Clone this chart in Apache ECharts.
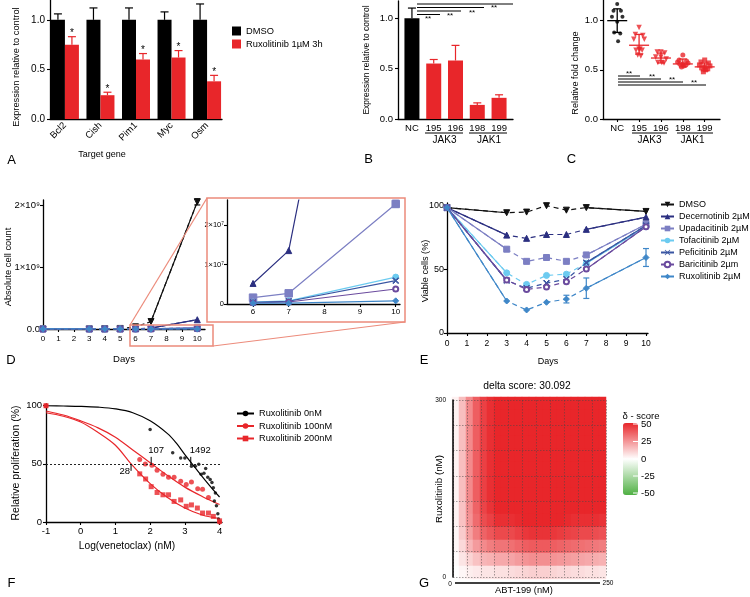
<!DOCTYPE html>
<html>
<head>
<meta charset="utf-8">
<script src="https://cdn.jsdelivr.net/npm/echarts@6/dist/echarts.min.js"></script>
<style>
html,body{margin:0;padding:0;background:#fff;}
#chart{width:750px;height:597px;}
</style>
</head>
<body>
<div id="chart"></div>
<script>
// ================= DATA =================
// Panel A
const genesA = ['Bcl2','Cish','Pim1','Myc','Osm'];
const legendA = ['DMSO','Ruxolitinib 1µM 3h'];
const exprDmsoA = [1.00,1.00,1.00,1.00,1.00];
const errDmsoA  = [1.06,1.12,1.12,1.08,1.16];
const exprRuxA  = [0.75,0.24,0.60,0.62,0.38];
const errRuxA   = [0.83,0.27,0.66,0.69,0.44];
const yTicksAB  = [0,0.5,1.0];

// Panel B
const guidesB = ['NC','195','196','198','199'];
const exprB   = [1.00,0.55,0.58,0.14,0.21];
const errB    = [1.10,0.59,0.73,0.16,0.24];

// Panel C
const guidesC = ['NC','195','196','198','199'];
const foldNC  = [1.17,1.10,1.10,1.04,1.04,0.99,0.88,0.87,0.79];
const fold195 = [0.93,0.86,0.85,0.81,0.81,0.71,0.70,0.70,0.71,0.65,0.64];
const fold196 = [0.68,0.68,0.67,0.63,0.61,0.63,0.575,0.57,0.575];
const fold198 = [0.65,0.60,0.59,0.58,0.57,0.56,0.56,0.55,0.54,0.53];
const fold199 = [0.60,0.58,0.57,0.55,0.54,0.53,0.52,0.51,0.50,0.48];
const meanC   = [1.00,0.75,0.62,0.56,0.53];
const sdLowC  = [0.88,0.66,0.57,0.53,0.49];
const sdHighC = [1.12,0.86,0.67,0.61,0.57];

// Panel D (absolute cell counts)
const daysD      = [0,3,4,5,6,7,10];
const cntDMSO    = [1.0e6,2.0e6,4.0e6,9.0e6,3.5e7,1.2e8,2.05e9];
const cntDecern  = [1.0e6,1.2e6,1.6e6,2.5e6,5.2e6,1.35e7,1.5e8];
const cntUpada   = [1.0e6,0.9e6,0.9e6,1.0e6,1.6e6,2.7e6,2.53e7];
const cntTofa    = [1.0e6,0.5e6,0.5e6,0.5e6,0.5e6,0.8e6,6.8e6];
const cntPefi    = [1.0e6,0.4e6,0.4e6,0.4e6,0.4e6,0.7e6,5.9e6];
const cntBari    = [1.0e6,0.4e6,0.3e6,0.3e6,0.3e6,0.5e6,3.8e6];
const cntRuxo    = [1.0e6,0.3e6,0.2e6,0.2e6,0.2e6,0.2e6,0.8e6];
const dmsoDay10Range  = [2.0e9,2.1e9];
const upadaDay10Range = [2.45e7,2.62e7];

// Panel E (viable cells %)
const daysE     = [0,3,4,5,6,7,10];
const viaDMSO   = [98,94,94.5,99.5,96,98,95];
const viaDecern = [98,76.5,74,77,77,81,90.5];
const viaUpada  = [98,65.5,56,59,56,61,85];
const viaTofa   = [98,47,38,45,46,54.5,83];
const viaPefi   = [98,41,35,39,42,55,84];
const viaBari   = [98,41.4,34,36,40,50,83];
const viaRuxo   = [98,25,18,24,26.5,35,59];
const ruxoErrDays = [6,7,10];
const ruxoErrLow  = [23.5,27,52];
const ruxoErrHigh = [29.5,43,66];
const namesE = ['DMSO ','Decernotinib 2µM','Upadacitinib 2µM','Tofacitinib 2µM','Peficitinib 2µM','Baricitinib 2µm','Ruxolitinib 2µM'];

// Panel F
const namesF = ['Ruxolitinib 0nM','Ruxolitinib 100nM','Ruxolitinib 200nM'];
const fitF0   = [[-1,100],[-0.5,99.8],[0,99.5],[0.5,98.8],[1,97.3],[1.5,94],[2,87],[2.5,76],[2.75,68],[3,58],[3.25,48.5],[3.5,39],[3.75,30],[4,21.5]];
const fitF100 = [[-1,95.5],[-0.5,92],[0,87],[0.5,81],[1,73],[1.5,62],[2,51],[2.5,40],[3,30],[3.5,22],[4,15]];
const fitF200 = [[-1,94],[-0.5,91],[0,86],[0.5,77],[1,66],[1.45,50],[2,33],[2.5,21],[3,12],[3.5,6],[4,3]];
const ptsF0   = [[-1,100],[2.0,79.6],[2.65,59.5],[2.88,55],[3.0,55],[3.19,48],[3.3,48],[3.4,49.6],[3.47,41],[3.55,42],[3.6,46],[3.66,38.5],[3.73,36.5],[3.78,34],[3.82,29.5],[3.88,25],[3.85,18],[3.91,14],[3.95,7],[3.97,2.5],[4,0]];
const ptsF100 = [[-1,100],[1.7,53.8],[1.86,49.8],[2.05,48.8],[2.2,44.6],[2.37,41],[2.53,38.4],[2.69,38.4],[2.88,35],[3.04,32.2],[3.19,34.5],[3.37,28.7],[3.51,28.2],[3.68,21],[4,0]];
const ptsF200 = [[-1,100],[1.7,41.4],[1.87,37],[2.03,30.4],[2.2,25.4],[2.37,23.4],[2.53,23.4],[2.69,17.7],[2.88,19],[3.04,13.5],[3.19,14.7],[3.36,12],[3.51,7.7],[3.68,7.7],[3.82,4.8],[4,1]];
const ic50Labels = ['107','1492','28'];
const ic50LogX   = [2.03,3.17,1.45];

// Panel G (delta synergy surface, rows top -> bottom)
const heatRows = [
 [3,15,27,37,44,48,52,52,52,52,52,52,52,52,52,52,52,52,52,52,52,52],
 [3,15,27,37,44,48,52,52,52,52,52,52,52,52,52,52,52,52,52,52,52,52],
 [3,15,27,37,44,48,52,52,52,52,52,52,52,52,52,52,52,52,52,52,52,52],
 [3,15,27,37,44,48,52,52,52,52,52,52,52,52,52,52,52,52,52,52,52,52],
 [3,15,27,37,44,48,52,52,52,52,52,52,52,52,52,52,52,52,52,52,52,52],
 [3,15,27,37,44,48,52,52,52,52,52,52,52,52,52,52,52,52,52,52,52,52],
 [3,15,27,37,44,48,52,52,52,52,52,52,52,52,52,52,52,52,52,52,52,52],
 [3,15,27,37,44,48,52,52,52,52,52,52,52,52,52,52,52,52,52,52,52,52],
 [3,14,26,36,43,47,51,51,51,52,52,52,52,52,52,52,52,51,51,51,51,50],
 [3,14,25,34,41,44,48,48,48,49,50,50,50,50,50,50,49,48,48,48,48,47],
 [2,12,22,30,36,39,42,42,42,44,46,47,47,47,46,45,44,43,42,42,41,40],
 [2,9,17,23,27,30,32,32,33,35,37,38,38,38,37,36,35,34,33,32,31,30],
 [1,6,10,14,17,18,20,20,21,23,25,26,26,26,25,24,23,22,21,20,19,18],
 [0,2,4,5,6,6,7,7,8,9,10,11,11,11,10,9,9,8,8,7,7,6]
];
const deltaTitle = 'delta score: 30.092';
const scoreTicks = ['50','25','0','-25','-50'];

// ================= STYLES / HELPERS =================
const FF = 'Liberation Sans';
const RED = '#e8262a';
const JITTER = [0,-0.17,0.17,-0.24,0.24,0,-0.14,0.14,0.04,-0.06,0.08];
const XPATH = 'path://M0,1L1,0L5,4L9,0L10,1L6,5L10,9L9,10L5,6L1,10L0,9L4,5Z';
const drugStyle = [
  {c:'#111111', sym:'triangle', rot:180, size:6},
  {c:'#2b2f80', sym:'triangle', rot:0, size:6},
  {c:'#7c7fc3', sym:'rect', rot:0, size:6},
  {c:'#6ccbf0', sym:'circle', rot:0, size:6},
  {c:'#3a56a2', sym:XPATH, rot:0, size:6},
  {c:'#6b4b9e', sym:'emptyCircle', rot:0, size:5},
  {c:'#3f87c8', sym:'diamond', rot:0, size:6}
];
const countD = [cntDMSO,cntDecern,cntUpada,cntTofa,cntPefi,cntBari,cntRuxo];
const viaE = [viaDMSO,viaDecern,viaUpada,viaTofa,viaPefi,viaBari,viaRuxo];

function vAxis(g, min, max, ticks, fmt, fs, margin, extra) {
  const a = {
    type:'value', gridIndex:g, min:min, max:max,
    axisLine:{show:true, onZero:false, lineStyle:{color:'#000', width:1.3}},
    axisTick:{show:true, length:3, customValues:ticks, lineStyle:{color:'#000', width:1.1}},
    axisLabel:{show:true, customValues:ticks, formatter:fmt, fontSize:fs, fontFamily:FF, color:'#000', margin:margin},
    splitLine:{show:false}
  };
  return Object.assign(a, extra || {});
}
function fmtNum(v){ return v.toFixed(1); }

function errSeries(xi, yi, data, colorFn, opts) {
  opts = opts || {};
  return {
    type:'custom', xAxisIndex:xi, yAxisIndex:yi, data:data, silent:true, z:opts.z || 5,
    renderItem: function(params, api) {
      const x = api.value(0);
      const lo = api.coord([x, api.value(1)]);
      const hi = api.coord([x, api.value(2)]);
      const px = lo[0] + (opts.dx || 0);
      const cap = opts.cap == null ? 4 : opts.cap;
      const col = typeof colorFn === 'function' ? colorFn(params.dataIndex) : colorFn;
      const st = {stroke:col, lineWidth:opts.lw || 1.2};
      const ch = [
        {type:'line', shape:{x1:px, y1:lo[1], x2:px, y2:hi[1]}, style:st},
        {type:'line', shape:{x1:px-cap, y1:hi[1], x2:px+cap, y2:hi[1]}, style:st}
      ];
      if (opts.both) ch.push({type:'line', shape:{x1:px-cap, y1:lo[1], x2:px+cap, y2:lo[1]}, style:st});
      if (opts.star) ch.push({type:'text', style:{text:opts.star, x:px, y:hi[1]+2, align:'center', verticalAlign:'bottom', fontSize:10, fontFamily:FF, fill:'#000'}});
      return {type:'group', children:ch};
    }
  };
}

function txt(x, y, text, fs, extra) {
  return Object.assign({type:'text', x:x, y:y, z:50, style:{text:text, fontSize:fs, fontFamily:FF, fill:'#000', align:'center', verticalAlign:'middle'}}, extra || {});
}
function vtxt(x, y, text, fs) { const t = txt(x, y, text, fs); t.rotation = Math.PI/2; return t; }
function ln(x1, y1, x2, y2, color, w) { return {type:'line', z:50, shape:{x1:x1,y1:y1,x2:x2,y2:y2}, style:{stroke:color || '#000', lineWidth:w || 1}}; }

// ================= GRIDS / AXES =================
const grids = [
  {left:50, top:0, width:172, height:119},     // A
  {left:398, top:1, width:115, height:118},    // B
  {left:603, top:0, width:117, height:119},    // C
  {left:43, top:200, width:162, height:129},   // D main
  {left:227, top:200, width:173, height:104},  // D inset
  {left:447, top:203, width:201, height:130},  // E
  {left:46, top:404, width:176, height:118},   // F
  {left:452, top:397, width:154, height:182},  // G heatmap (integer cells)
  {left:453, top:400, width:153, height:177}   // G overlay
];

const catIdx = [0,1,2,3,4];
const xAxes = [
  vAxis(0, -0.42, 4.42, catIdx, v => genesA[Math.round(v)], 9.5, 5, {}),
  vAxis(1, -0.64, 4.64, catIdx, v => guidesB[Math.round(v)], 9.5, 4, {}),
  vAxis(2, -0.65, 4.7, catIdx, v => guidesC[Math.round(v)], 9.5, 4, {}),
  vAxis(3, 0, 10.5, [0,1,2,3,4,5,6,7,8,9,10], v => String(v), 8, 6, {}),
  vAxis(4, 5.27, 10.12, [6,7,8,9,10], v => String(v), 8, 4, {}),
  vAxis(5, 0, 10.1, [0,1,2,3,4,5,6,7,8,9,10], v => String(v), 8.5, 6, {}),
  vAxis(6, -1, 4.07, [-1,0,1,2,3,4], v => String(v), 9.5, 4, {}),
  {type:'category', gridIndex:7, data:Array.from({length:22}, (_, i) => i), show:false},
  {type:'value', gridIndex:8, min:0, max:11, interval:1, z:10,
   axisLine:{show:false}, axisTick:{show:false}, axisLabel:{show:false},
   splitLine:{show:true, lineStyle:{type:[1.5,1.5], color:'rgba(70,70,70,0.5)', width:1}}}
];
xAxes[0].axisTick.show = false;
xAxes[0].axisLabel.rotate = 45;
xAxes[1].axisTick.show = false;

const yAxes = [
  vAxis(0, 0, 1.2, yTicksAB, fmtNum, 10, 5, {}),
  vAxis(1, 0, 1.17, yTicksAB, fmtNum, 9.5, 5, {}),
  vAxis(2, 0, 1.21, yTicksAB, fmtNum, 9.5, 5, {}),
  vAxis(3, 0, 2.08e9, [0,1e9,2e9], v => v === 0 ? '0.0' : (v/1e9) + '×10⁹', 9.5, 3, {}),
  vAxis(4, 0, 2.63e7, [0,1e7,2e7], v => v === 0 ? '0' : (v/1e7) + '×10⁷', 7.5, 3, {}),
  vAxis(5, 0, 101.6, [0,50,100], v => String(v), 9, 3, {}),
  vAxis(6, 0, 101.5, [0,50,100], v => String(v), 9.5, 4, {}),
  {type:'category', gridIndex:7, data:Array.from({length:14}, (_, i) => i), inverse:true, show:false},
  {type:'value', gridIndex:8, min:0, max:7, interval:1, offset:5, z:10,
   axisLine:{show:true, lineStyle:{color:'#000', width:1.5}}, axisTick:{show:false},
   axisLabel:{show:true, customValues:[0,7], formatter: v => v === 7 ? '300' : '0', fontSize:6.5, fontFamily:FF, color:'#000', margin:2},
   splitLine:{show:true, lineStyle:{type:[1.5,1.5], color:'rgba(70,70,70,0.5)', width:1}}}
];

// ================= SERIES =================
const series = [];
// A
series.push({type:'bar', name:legendA[0], xAxisIndex:0, yAxisIndex:0, barWidth:14, barGap:'0%',
  data: genesA.map((g, i) => [i, exprDmsoA[i]]), itemStyle:{color:'#000'}, silent:true});
series.push({type:'bar', name:legendA[1], xAxisIndex:0, yAxisIndex:0, barWidth:14, barGap:'0%',
  data: genesA.map((g, i) => [i, exprRuxA[i]]), itemStyle:{color:RED}, silent:true});
series.push(errSeries(0, 0, genesA.map((g, i) => [i, exprDmsoA[i], errDmsoA[i]]), '#000', {dx:-7}));
series.push(errSeries(0, 0, genesA.map((g, i) => [i, exprRuxA[i], errRuxA[i]]), RED, {dx:7, star:'*'}));

// B
series.push({type:'bar', name:'B', xAxisIndex:1, yAxisIndex:1, barWidth:15, silent:true,
  data: guidesB.map((g, i) => ({value:[i, exprB[i]], itemStyle:{color: i === 0 ? '#000' : RED}}))});
series.push(errSeries(1, 1, guidesB.map((g, i) => [i, exprB[i], errB[i]]), i => i === 0 ? '#000' : RED, {}));

// C
const groupsC = [foldNC, fold195, fold196, fold198, fold199];
const symC = [['circle',4,0],['triangle',5.5,180],['triangle',5.5,180],['circle',5,0],['rect',5,0]];
groupsC.forEach((vals, g) => {
  series.push({type:'scatter', name:'C' + g, xAxisIndex:2, yAxisIndex:2, silent:true,
    symbol:symC[g][0], symbolSize:symC[g][1], symbolRotate:symC[g][2],
    itemStyle:{color: g === 0 ? '#000' : RED},
    data: vals.map((v, k) => [g + JITTER[k % JITTER.length], v])});
});
series.push({type:'custom', xAxisIndex:2, yAxisIndex:2, silent:true, z:6,
  data: guidesC.map((g, i) => [i, meanC[i], sdLowC[i], sdHighC[i]]),
  renderItem: function(params, api) {
    const x = api.value(0);
    const m = api.coord([x, api.value(1)]);
    const lo = api.coord([x, api.value(2)]);
    const hi = api.coord([x, api.value(3)]);
    const col = params.dataIndex === 0 ? '#000' : RED;
    const st = {stroke:col, lineWidth:1.3};
    return {type:'group', children:[
      {type:'line', shape:{x1:m[0]-10, y1:m[1], x2:m[0]+10, y2:m[1]}, style:st},
      {type:'line', shape:{x1:m[0], y1:lo[1], x2:m[0], y2:hi[1]}, style:st},
      {type:'line', shape:{x1:m[0]-4, y1:lo[1], x2:m[0]+4, y2:lo[1]}, style:st},
      {type:'line', shape:{x1:m[0]-4, y1:hi[1], x2:m[0]+4, y2:hi[1]}, style:st}
    ]};
  }});

// D main + inset, E
function segData(days, vals) {
  return [[days[0], vals[0]],[days[1], vals[1]],[days[2], '-'],[days[5], vals[5]],[days[6], vals[6]]];
}
drugStyle.forEach((s, i) => {
  series.push({type:'line', name:'D' + i, xAxisIndex:3, yAxisIndex:3, silent:true, z:3 + i,
    data: daysD.map((d, k) => [d, countD[i][k]]),
    symbol:s.sym, symbolSize:s.size, symbolRotate:s.rot,
    itemStyle:{color:s.c, borderColor:s.c}, lineStyle:{color:s.c, width:1.2, type:[4,3]}});
  series.push({type:'line', name:'Ds' + i, xAxisIndex:3, yAxisIndex:3, silent:true, z:3 + i,
    data: segData(daysD, countD[i]), symbol:'none', lineStyle:{color:s.c, width:1.2}});
  series.push({type:'line', name:'Di' + i, xAxisIndex:4, yAxisIndex:4, silent:true, z:3 + i,
    data: daysD.map((d, k) => [d, countD[i][k]]).filter(p => p[0] >= 6),
    symbol:s.sym, symbolSize:s.size + (i === 2 ? 1.5 : 0), symbolRotate:s.rot,
    itemStyle:{color:s.c, borderColor:s.c}, lineStyle:{color:s.c, width:1.2}});
  series.push({type:'line', name:namesE[i], xAxisIndex:5, yAxisIndex:5, silent:true, z:3 + i,
    data: daysE.map((d, k) => [d, viaE[i][k]]),
    symbol:s.sym, symbolSize:s.size, symbolRotate:s.rot,
    itemStyle:{color:s.c, borderColor:s.c}, lineStyle:{color:s.c, width:1.2, type:[5,4]}});
  series.push({type:'line', name:'Es' + i, xAxisIndex:5, yAxisIndex:5, silent:true, z:3 + i,
    data: segData(daysE, viaE[i]), symbol:'none', lineStyle:{color:s.c, width:1.2}});
});
series.push(errSeries(3, 3, [[10, dmsoDay10Range[0], dmsoDay10Range[1]]], '#111', {both:true, cap:3}));
series.push(errSeries(4, 4, [[10, upadaDay10Range[0], upadaDay10Range[1]]], drugStyle[2].c, {both:true, cap:3}));
series.push(errSeries(5, 5, ruxoErrDays.map((d, i) => [d, ruxoErrLow[i], ruxoErrHigh[i]]), drugStyle[6].c, {both:true, cap:3}));

// F
const fitsF = [fitF0, fitF100, fitF200];
const ptsF = [ptsF0, ptsF100, ptsF200];
const colF = ['#000', RED, RED];
const symF = [['circle',3.5],['circle',5],['rect',5]];
fitsF.forEach((fit, i) => {
  const s = {type:'line', name:namesF[i], xAxisIndex:6, yAxisIndex:6, silent:true, smooth:0.35,
    data: fit, symbol:symF[i][0], showSymbol:false, itemStyle:{color:colF[i]}, lineStyle:{color:colF[i], width:1.2}, z:3};
  if (i === 0) s.markLine = {silent:true, symbol:'none', label:{show:false},
    lineStyle:{type:[2,2], color:'#222', width:1}, data:[{yAxis:50}]};
  series.push(s);
});
ptsF.forEach((pts, i) => {
  series.push({type:'scatter', name:'Fp' + i, xAxisIndex:6, yAxisIndex:6, silent:true, z:4,
    data: pts, symbol:symF[i][0], symbolSize:symF[i][1], itemStyle:{color:colF[i]}});
});
const IC50_STYLE = [
  {dir:-1, align:'left', dx:-3, va:'bottom'},
  {dir:-1, align:'left', dx:-1, va:'bottom'},
  {dir:1, align:'right', dx:-1, va:'middle'}
];
series.push({type:'custom', xAxisIndex:6, yAxisIndex:6, silent:true, z:6,
  data: ic50LogX.map((x, i) => [x, 50]),
  renderItem: function(params, api) {
    const i = params.dataIndex, st = IC50_STYLE[i];
    const p = api.coord([api.value(0), api.value(1)]);
    const end = p[1] + st.dir * 7;
    const ty = st.va === 'bottom' ? end - 1 : end + 1;
    return {type:'group', children:[
      {type:'line', shape:{x1:p[0], y1:p[1], x2:p[0], y2:end}, style:{stroke:'#000', lineWidth:1}},
      {type:'text', style:{text:ic50Labels[i], x:p[0] + st.dx, y:ty, align:st.align, verticalAlign:st.va, fontSize:9.5, fontFamily:FF, fill:'#000'}}
    ]};
  }});

// G heatmap
const heatData = [];
heatRows.forEach((row, r) => row.forEach((v, c) => heatData.push([c, r, v])));
const heatIdx = series.length;
series.push({type:'heatmap', xAxisIndex:7, yAxisIndex:7, data:heatData, silent:true, z:1,
  itemStyle:{borderWidth:0}});

// ================= GRAPHICS (annotations, names) =================
const gfx = [];
[['A',11.5,160],['B',368.5,159],['C',571.5,159],['D',11,360],['E',424,360],['F',11.5,583],['G',424,583]]
  .forEach(l => gfx.push(txt(l[1], l[2], l[0], 13)));
// A
gfx.push(vtxt(16, 67, 'Expression relative to control', 9.3));
gfx.push(txt(102, 155, 'Target gene', 9));
// B
gfx.push(vtxt(367, 60, 'Expression relative to control', 8.5));
gfx.push(ln(425, 133, 463, 133), ln(469, 133, 507, 133));
gfx.push(txt(444.5, 140, 'JAK3', 10), txt(489, 140, 'JAK1', 10));
[[4,513],[7.5,484],[11,461],[14.5,440]].forEach(l => gfx.push(ln(417, l[0], l[1], l[0], '#000', 1)));
[[428,19],[450,16],[472,12.5],[494,8]].forEach(s => gfx.push(txt(s[0], s[1], '**', 8)));
// C
gfx.push(vtxt(575, 73, 'Relative fold change', 9.2));
gfx.push(ln(632, 133, 667, 133), ln(677, 133, 713, 133));
gfx.push(txt(649.5, 140, 'JAK3', 10), txt(692.5, 140, 'JAK1', 10));
[[76,640],[79,661],[82,683],[85,706]].forEach(l => gfx.push(ln(618, l[0], l[1], l[0], '#000', 1)));
[[629,74],[652,77],[672,80],[694,83]].forEach(s => gfx.push(txt(s[0], s[1], '**', 8)));
// D
gfx.push(vtxt(8, 267, 'Absolute cell count', 9.4));
gfx.push(txt(124, 359, 'Days', 9.6));
const SALMON = '#ec8b7b';
gfx.push({type:'rect', z:40, shape:{x:207, y:198, width:198, height:124}, style:{fill:'none', stroke:SALMON, lineWidth:1.5}});
gfx.push({type:'rect', z:40, shape:{x:130, y:325, width:83, height:21}, style:{fill:'none', stroke:SALMON, lineWidth:1.5}});
gfx.push(ln(130, 325, 207, 198, SALMON, 1.2), ln(213, 346, 405, 322, SALMON, 1.2));
// E
gfx.push(vtxt(425, 271, 'Viable cells (%)', 9.1));
gfx.push(txt(548, 362, 'Days', 9));
// F
gfx.push(vtxt(16, 463, 'Relative proliferation (%)', 10.5));
gfx.push(txt(127, 546, 'Log(venetoclax) (nM)', 10.2));
// G
gfx.push(txt(527, 386, deltaTitle, 10.3));
gfx.push(txt(524, 590, 'ABT-199 (nM)', 9.3));
gfx.push(vtxt(439, 489, 'Ruxolitinib (nM)', 9.8));
gfx.push(ln(455, 583, 600, 583, '#000', 1.5));
gfx.push(txt(450, 584, '0', 6.5), txt(608, 583, '250', 6.5));
gfx.push(txt(641, 416, 'δ - score', 9.5));
[424,441.5,459,476,493].forEach((y, i) => {
  gfx.push(txt(641, y, scoreTicks[i], 9.5, {}));
  gfx[gfx.length - 1].style.align = 'left';
  gfx.push(ln(633, y, 638, y, '#fff', 1));
});

// ================= OPTION =================
const option = {
  animation:false,
  backgroundColor:'#fff',
  textStyle:{fontFamily:FF},
  grid:grids,
  xAxis:xAxes,
  yAxis:yAxes,
  legend:[
    {data:legendA, left:232, top:26, orient:'vertical', itemWidth:9, itemHeight:9, itemGap:3, icon:'rect',
     padding:0, selectedMode:false, textStyle:{fontSize:9.3, fontFamily:FF, color:'#000', lineHeight:10}},
    {data:namesE, left:660, top:200, orient:'vertical', itemWidth:13, itemHeight:7, itemGap:3,
     padding:0, selectedMode:false, lineStyle:{type:'solid'}, textStyle:{fontSize:9, fontFamily:FF, color:'#000'}},
    {data:namesF, left:236, top:409, orient:'vertical', itemWidth:17, itemHeight:7, itemGap:3.5,
     padding:0, selectedMode:false, textStyle:{fontSize:9.2, fontFamily:FF, color:'#000'}}
  ],
  visualMap:[{type:'continuous', min:-50, max:50, seriesIndex:heatIdx, dimension:2, calculable:false,
    inRange:{color:['#4fb043','#ffffff',RED]}, itemWidth:15, itemHeight:72, left:623, top:423, padding:0,
    text:null, showLabel:false}],
  graphic:{elements:gfx},
  series:series
};

const chart = echarts.init(document.getElementById('chart'), null, {renderer:'canvas'});
chart.setOption(option);
</script>
</body>
</html>
